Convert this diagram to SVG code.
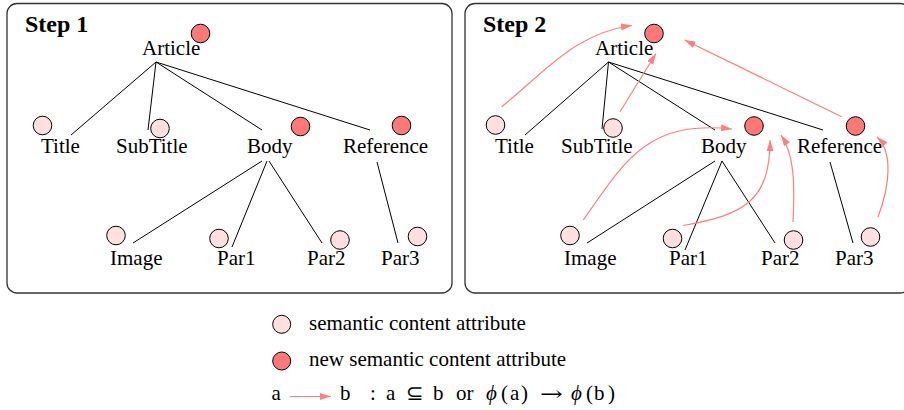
<svg xmlns="http://www.w3.org/2000/svg" width="904" height="410" viewBox="0 0 904 410">
<defs>
<marker id="ah" markerUnits="userSpaceOnUse" markerWidth="12" markerHeight="8" refX="11" refY="3.5" orient="auto">
<path d="M0,0 L11,3.5 L0,7 z" fill="#ff7f7f"/>
</marker>
<style>
.panel{fill:#fff;stroke:#333;stroke-width:1.3}
.lbl{font-family:"Liberation Serif","Times New Roman",serif;font-size:21px;fill:#000}
.math{font-family:"DejaVu Serif","Liberation Serif",serif;font-size:21px;fill:#000}
.step{font-family:"Liberation Serif","Times New Roman",serif;font-size:24px;font-weight:bold;fill:#000}
.old{fill:#ffdfdf;stroke:#000;stroke-width:1}
.new{fill:#ff7878;stroke:#000;stroke-width:1}
.edge{stroke:#000;stroke-width:1;fill:none}
.rel{stroke:#ff7f7f;stroke-width:1.2;fill:none;marker-end:url(#ah)}
</style>
</defs>
<rect class="panel" x="7" y="3.5" width="445" height="289.5" rx="10"/>
<rect class="panel" x="465" y="3.5" width="445" height="289.5" rx="10"/>
<text class="step" x="25" y="32">Step 1</text>
<text class="step" x="483" y="32">Step 2</text>

<g id="edges1">
<line class="edge" x1="156" y1="62" x2="71" y2="135"/>
<line class="edge" x1="156" y1="62" x2="148" y2="130"/>
<line class="edge" x1="156" y1="62" x2="262" y2="130"/>
<line class="edge" x1="156" y1="62" x2="370" y2="130"/>
<line class="edge" x1="262" y1="161" x2="133" y2="243"/>
<line class="edge" x1="267" y1="161" x2="232" y2="247"/>
<line class="edge" x1="269" y1="161" x2="322" y2="243"/>
<line class="edge" x1="377" y1="162" x2="398" y2="243"/>
</g>
<g id="s1-article"><circle class="new" cx="200.5" cy="33.5" r="9.3"/><text class="lbl" x="142" y="55">Article</text></g>
<g id="s1-title"><circle class="old" cx="42.5" cy="125.5" r="9.3"/><text class="lbl" x="41" y="153">Title</text></g>
<g id="s1-subtitle"><circle class="old" cx="160" cy="128.5" r="9.3"/><text class="lbl" x="116" y="153">SubTitle</text></g>
<g id="s1-body"><circle class="new" cx="300.5" cy="126.5" r="9.3"/><text class="lbl" x="247" y="153">Body</text></g>
<g id="s1-reference"><circle class="new" cx="401.5" cy="125.5" r="9.3"/><text class="lbl" x="343" y="153">Reference</text></g>
<g id="s1-image"><circle class="old" cx="116" cy="235.5" r="9.3"/><text class="lbl" x="110" y="265">Image</text></g>
<g id="s1-par1"><circle class="old" cx="219" cy="238.5" r="9.3"/><text class="lbl" x="217" y="265">Par1</text></g>
<g id="s1-par2"><circle class="old" cx="340" cy="240" r="9.3"/><text class="lbl" x="307" y="265">Par2</text></g>
<g id="s1-par3"><circle class="old" cx="417.5" cy="236.5" r="9.3"/><text class="lbl" x="381" y="265">Par3</text></g>

<g id="edges2">
<line class="edge" x1="608.5" y1="62" x2="525" y2="135"/>
<line class="edge" x1="608.5" y1="62" x2="602" y2="129"/>
<line class="edge" x1="608.5" y1="62" x2="715" y2="130"/>
<line class="edge" x1="608.5" y1="62" x2="823" y2="130"/>
<line class="edge" x1="715" y1="161" x2="587" y2="243"/>
<line class="edge" x1="722" y1="161" x2="685" y2="250"/>
<line class="edge" x1="722" y1="161" x2="775" y2="243"/>
<line class="edge" x1="830" y1="162" x2="853" y2="243"/>
</g>
<g id="s2-article"><circle class="new" cx="654" cy="33.5" r="9.3"/><text class="lbl" x="595" y="55">Article</text></g>
<g id="s2-title"><circle class="old" cx="495.5" cy="125" r="9.3"/><text class="lbl" x="495" y="153">Title</text></g>
<g id="s2-subtitle"><circle class="old" cx="613" cy="128" r="9.3"/><text class="lbl" x="561" y="153">SubTitle</text></g>
<g id="s2-body"><circle class="new" cx="754" cy="126" r="9.3"/><text class="lbl" x="701" y="153">Body</text></g>
<g id="s2-reference"><circle class="new" cx="855.5" cy="126" r="9.3"/><text class="lbl" x="797" y="153">Reference</text></g>
<g id="s2-image"><circle class="old" cx="570" cy="235.5" r="9.3"/><text class="lbl" x="564" y="265">Image</text></g>
<g id="s2-par1"><circle class="old" cx="672.5" cy="238.5" r="9.3"/><text class="lbl" x="669" y="265">Par1</text></g>
<g id="s2-par2"><circle class="old" cx="793.5" cy="240" r="9.3"/><text class="lbl" x="761" y="265">Par2</text></g>
<g id="s2-par3"><circle class="old" cx="870.5" cy="237" r="9.3"/><text class="lbl" x="835" y="265">Par3</text></g>

<g id="relations">
<path class="rel" d="M501.7,106.7 C545,72 575,33 632,25.5"/>
<path class="rel" d="M620,111.7 L656,53.5"/>
<path class="rel" d="M841.7,116.7 L684.5,40"/>
<path class="rel" d="M583.3,220 C625,160 648,120 732,129"/>
<path class="rel" d="M683,225.5 C745,215 770,200 770,140"/>
<path class="rel" d="M793,222 C795,180 794,155 781,135"/>
<path class="rel" d="M878,217 C890,185 893,152 877,137"/>
</g>

<g id="legend">
<circle class="old" cx="281.7" cy="324.3" r="9"/>
<text class="lbl" x="309" y="329.5">semantic content attribute</text>
<circle class="new" cx="281.7" cy="361" r="9"/>
<text class="lbl" x="309" y="366">new semantic content attribute</text>
<text class="lbl" x="271.5" y="400">a</text>
<line class="rel" x1="290" y1="396.5" x2="331" y2="396.5"/>
<text class="lbl" y="400"><tspan x="340">b</tspan><tspan x="370">:</tspan><tspan x="386">a</tspan><tspan x="406">⊆</tspan><tspan x="433">b</tspan><tspan x="456">or</tspan></text>
<text class="lbl" y="400" font-size="22"><tspan x="486" font-style="italic">ϕ</tspan><tspan x="501">(</tspan><tspan x="510">a</tspan><tspan x="521">)</tspan><tspan x="571" font-style="italic">ϕ</tspan><tspan x="586">(</tspan><tspan x="594">b</tspan><tspan x="608">)</tspan></text>
<text class="math" x="540" y="401" textLength="23" lengthAdjust="spacingAndGlyphs">→</text>
</g>
</svg>
